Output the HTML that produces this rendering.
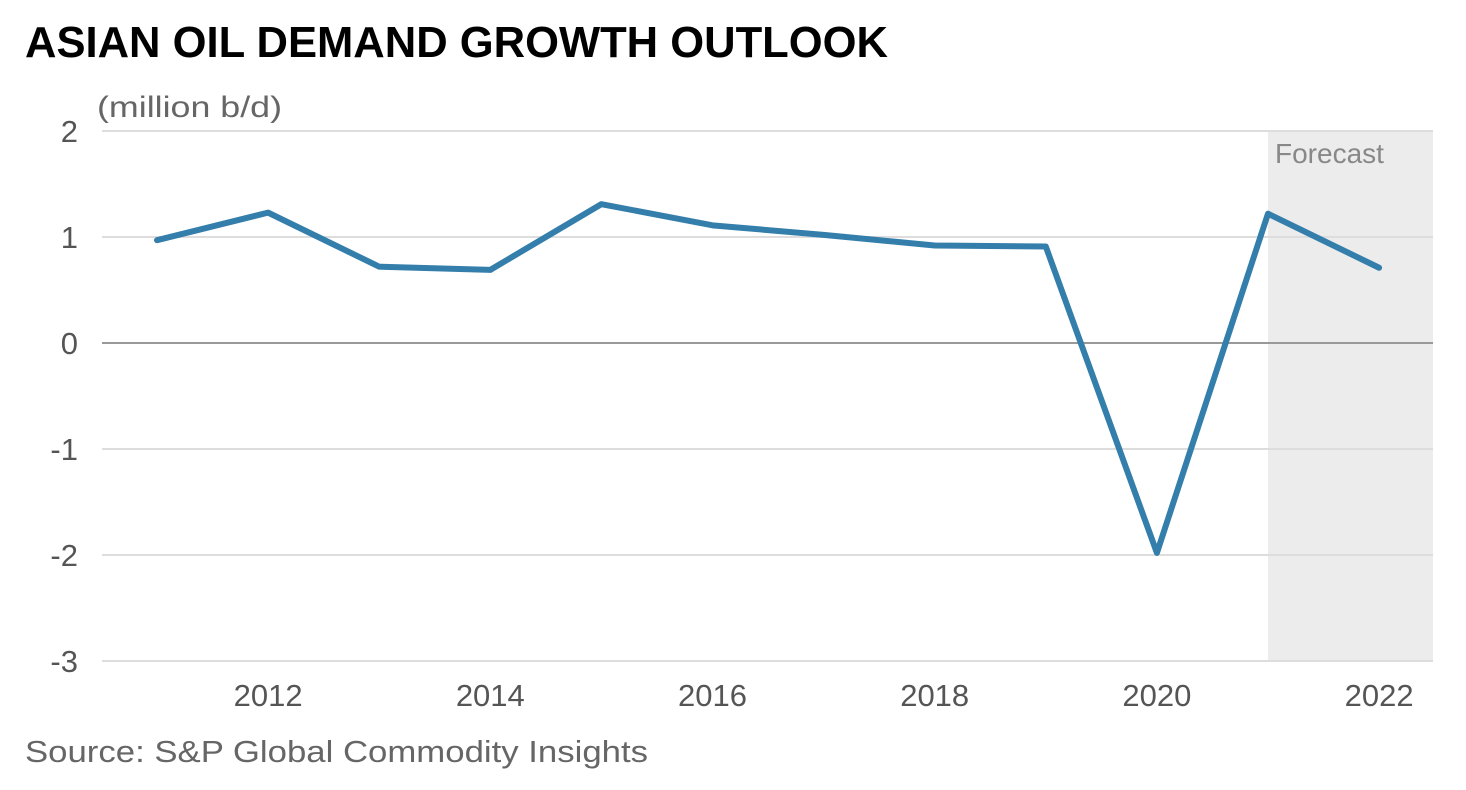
<!DOCTYPE html>
<html><head><meta charset="utf-8"><style>
body{margin:0;background:#fff;}
svg{display:block;font-family:"Liberation Sans",sans-serif;}
</style></head><body>
<svg id="chart" width="1466" height="790" viewBox="0 0 1466 790">
<rect width="1466" height="790" fill="#fff"/>
<text x="25" y="57" font-size="44" font-weight="bold" fill="#000" textLength="863" lengthAdjust="spacingAndGlyphs">ASIAN OIL DEMAND GROWTH OUTLOOK</text>
<text x="97" y="117" font-size="30" fill="#666" textLength="185" lengthAdjust="spacingAndGlyphs">(million b/d)</text>
<text x="25" y="762" font-size="31" fill="#666" textLength="623" lengthAdjust="spacingAndGlyphs">Source: S&amp;P Global Commodity Insights</text>
<g id="plot"></g>
</svg>
<script>
const years=[2011,2012,2013,2014,2015,2016,2017,2018,2019,2020,2021,2022];
const growth=[0.97,1.23,0.72,0.69,1.31,1.11,1.02,0.92,0.91,-1.98,1.22,0.71];
const yTicks=[2,1,0,-1,-2,-3];
const xTickLabels=[2012,2014,2016,2018,2020,2022];
const forecastStart=2021;
const NS="http://www.w3.org/2000/svg";
const g=document.getElementById('plot');
const X0=102,X1=1433;
const xs=v=>157+(v-2011)*111.1;
const ys=v=>343-v*106;
function mk(t,a){const e=document.createElementNS(NS,t);for(const k in a)e.setAttribute(k,a[k]);g.appendChild(e);return e;}
const fr=mk('rect',{x:xs(forecastStart),y:ys(2),width:X1-xs(forecastStart),height:ys(-3)-ys(2),fill:'#ececec'});


const ft=mk('text',{x:xs(forecastStart)+7,y:ys(2)+32,'font-size':28,fill:'#888'});ft.textContent='Forecast';


yTicks.forEach(v=>{
 const l=mk('line',{x1:X0,x2:X1,y1:ys(v),y2:ys(v),stroke:v===0?'#999':'#ddd','stroke-width':2});
 
 
 const t=mk('text',{x:78,y:ys(v)+11,'font-size':31,fill:'#555','text-anchor':'end'});t.textContent=v;
 
 
});
xTickLabels.forEach(v=>{
 const t=mk('text',{x:xs(v),y:706,'font-size':31,fill:'#555','text-anchor':'middle'});t.textContent=v;
 
 
});
const p=mk('polyline',{points:years.map((y,i)=>xs(y)+','+ys(growth[i])).join(' '),fill:'none',stroke:'#347eab','stroke-width':6,'stroke-linejoin':'round','stroke-linecap':'round'});


</script>
</body></html>
